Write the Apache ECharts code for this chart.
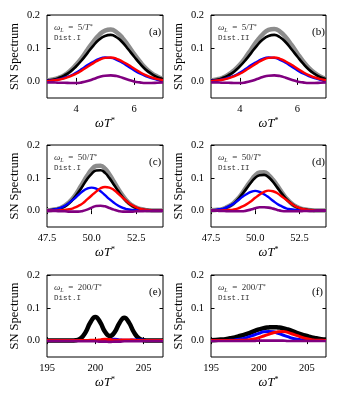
<!DOCTYPE html>
<html>
<head>
<meta charset="utf-8">
<script src="https://cdn.jsdelivr.net/npm/echarts@6/dist/echarts.min.js"></script>
<style>
  html, body { margin: 0; padding: 0; background: #fff; }
  #main { width: 338px; height: 400px; }
</style>
</head>
<body>
<div id="main"></div>
<script>
// x 網格
const xA = [3.0,3.2,3.4,3.6,3.8,4.0,4.2,4.4,4.6,4.8,5.0,5.2,5.4,5.6,5.8,6.0,6.2,6.4,6.6,6.8,7.0];
const xC = [47.5,47.75,48,48.25,48.5,48.75,49,49.25,49.5,49.75,50,50.25,50.5,50.75,51,51.25,51.5,51.75,52,52.25,52.5,52.75,53,53.25,53.5,53.75,54];
const xE = [195,195.5,196,196.5,197,197.5,198,198.5,199,199.5,200,200.5,201,201.5,202,202.5,203,203.5,204,204.5,205,205.5,206,206.5,207];

// tick labels
const xTicksA = [4, 6];
const xTicksC = [47.5, 50, 52.5];
const xTicksE = [195, 200, 205];
const yTicks = [0, 0.1, 0.2];

// (a) wL = 5, Dist.I
const grayA   = [0.003,0.006,0.011,0.019,0.032,0.050,0.071,0.096,0.120,0.140,0.153,0.156,0.148,0.131,0.108,0.083,0.060,0.040,0.025,0.015,0.008];
const blackA  = [0.003,0.005,0.010,0.018,0.029,0.045,0.064,0.086,0.108,0.126,0.137,0.140,0.133,0.118,0.097,0.075,0.054,0.036,0.023,0.013,0.007];
const blueA   = [0.002,0.003,0.006,0.011,0.017,0.026,0.037,0.049,0.059,0.068,0.072,0.071,0.065,0.056,0.045,0.034,0.024,0.016,0.010,0.005,0.003];
const redA    = [0.001,0.003,0.005,0.009,0.015,0.023,0.033,0.044,0.055,0.065,0.071,0.072,0.068,0.060,0.050,0.039,0.028,0.019,0.012,0.007,0.004];
const purpleA = [-0.003,-0.003,-0.004,-0.004,-0.005,-0.005,-0.003,0.001,0.007,0.013,0.017,0.018,0.016,0.011,0.005,0.000,-0.003,-0.005,-0.005,-0.004,-0.003];

// (b) wL = 5, Dist.II
const grayB   = [0.003,0.006,0.011,0.020,0.033,0.050,0.072,0.097,0.122,0.142,0.155,0.158,0.150,0.133,0.110,0.085,0.061,0.041,0.026,0.015,0.008];
const blackB  = [0.003,0.005,0.010,0.018,0.029,0.045,0.064,0.086,0.108,0.126,0.137,0.140,0.133,0.118,0.097,0.075,0.054,0.036,0.023,0.013,0.007];
const blueB   = [0.002,0.003,0.006,0.011,0.017,0.026,0.037,0.049,0.059,0.068,0.072,0.071,0.065,0.056,0.045,0.034,0.024,0.016,0.010,0.005,0.003];
const redB    = [0.001,0.003,0.005,0.009,0.015,0.023,0.033,0.044,0.055,0.065,0.071,0.072,0.068,0.060,0.050,0.039,0.028,0.019,0.012,0.007,0.004];
const purpleB = [-0.003,-0.003,-0.004,-0.004,-0.005,-0.005,-0.003,0.001,0.007,0.013,0.017,0.018,0.016,0.011,0.005,0.000,-0.003,-0.005,-0.005,-0.004,-0.003];

// (c) wL = 50, Dist.I
const grayC   = [0.001,0.002,0.004,0.008,0.015,0.026,0.041,0.061,0.084,0.106,0.125,0.136,0.137,0.128,0.110,0.088,0.065,0.045,0.028,0.017,0.009,0.005,0.002,0.001,0,0,0];
const blackC  = [0.001,0.002,0.004,0.007,0.013,0.023,0.037,0.055,0.075,0.096,0.112,0.122,0.123,0.115,0.099,0.079,0.059,0.040,0.026,0.015,0.008,0.004,0.002,0.001,0,0,0];
const blueC   = [0.001,0.002,0.004,0.008,0.015,0.024,0.035,0.047,0.059,0.067,0.070,0.067,0.059,0.047,0.035,0.024,0.015,0.008,0.004,0.002,0.001,0,0,0,0,0,0];
const redC    = [0,0,0,0.001,0.002,0.004,0.008,0.014,0.022,0.034,0.046,0.058,0.068,0.072,0.070,0.063,0.051,0.039,0.027,0.017,0.010,0.005,0.003,0.001,0,0,0];
const purpleC = [-0.001,-0.001,-0.001,-0.002,-0.002,-0.003,-0.003,-0.003,-0.001,0.003,0.009,0.014,0.015,0.013,0.008,0.003,-0.001,-0.003,-0.003,-0.003,-0.002,-0.002,-0.001,-0.001,-0.001,-0.001,-0.001];

// (d) wL = 50, Dist.II
const grayD   = [0.001,0.002,0.003,0.007,0.013,0.022,0.035,0.052,0.072,0.091,0.107,0.116,0.117,0.109,0.094,0.076,0.056,0.038,0.024,0.014,0.008,0.004,0.002,0.001,0,0,0];
const blackD  = [0.001,0.001,0.003,0.006,0.012,0.020,0.033,0.049,0.067,0.085,0.100,0.108,0.109,0.102,0.088,0.070,0.052,0.036,0.023,0.013,0.007,0.004,0.002,0.001,0,0,0];
const blueD   = [0.001,0.002,0.004,0.007,0.013,0.020,0.030,0.041,0.050,0.057,0.060,0.057,0.050,0.041,0.030,0.020,0.013,0.007,0.004,0.002,0.001,0,0,0,0,0,0];
const redD    = [0,0,0,0.001,0.002,0.003,0.006,0.012,0.019,0.028,0.039,0.049,0.057,0.061,0.059,0.053,0.043,0.033,0.023,0.014,0.008,0.004,0.002,0.001,0,0,0];
const purpleD = [0,0,-0.001,-0.001,-0.002,-0.002,-0.002,-0.002,0,0.003,0.007,0.010,0.010,0.009,0.006,0.002,-0.001,-0.002,-0.002,-0.002,-0.002,-0.001,-0.001,-0.001,0,0,0];

// (e) wL = 200, Dist.I
const blackE  = [0,0,0,0,0,0,0.001,0.007,0.026,0.056,0.072,0.056,0.027,0.014,0.026,0.054,0.070,0.054,0.025,0.007,0.001,0,0,0,0];
const blueE   = [0,0,0,0,0,0,0,0,0,0,0,0,0.001,0.002,0.004,0.002,0.001,0.001,0.002,0.002,0.001,0,0,0,0];
const redE    = [0,0,0,0,0,0,0,0,0,0.001,0.001,0.002,0.004,0.003,0.001,0.001,0.002,0.002,0.001,0,0,0,0,0,0];
const purpleE = [-0.001,-0.001,-0.001,-0.001,-0.001,-0.001,-0.001,-0.002,-0.002,-0.002,-0.002,-0.003,-0.003,-0.004,-0.003,-0.003,-0.002,-0.002,-0.002,-0.002,-0.001,-0.001,-0.001,-0.001,-0.001];

// (f) wL = 200, Dist.II
const blackF  = [0.001,0.002,0.003,0.004,0.007,0.010,0.014,0.018,0.023,0.029,0.034,0.038,0.040,0.041,0.040,0.038,0.034,0.029,0.023,0.018,0.014,0.010,0.007,0.004,0.003];
const blueF   = [0,0,0,0,0.001,0.002,0.004,0.007,0.012,0.017,0.022,0.027,0.028,0.027,0.022,0.017,0.012,0.007,0.004,0.002,0.001,0,0,0,0];
const redF    = [0,0,0,0,0,0,0.001,0.001,0.003,0.005,0.009,0.014,0.019,0.024,0.027,0.028,0.025,0.020,0.015,0.010,0.006,0.003,0.001,0.001,0];
const purpleF = [-0.001,-0.001,-0.001,-0.001,-0.001,-0.001,-0.001,-0.001,-0.001,-0.001,0,0,0,0,0,0,-0.001,-0.001,-0.001,-0.001,-0.001,-0.001,-0.001,-0.001,-0.001];

const panels = [
  {xs: xA, xr: [3, 7], xt: xTicksA, dec: 0, gray: grayA, black: blackA, blue: blueA, red: redA, purple: purpleA, wl: '5', dist: 'Dist.I', tag: '(a)', thick: false},
  {xs: xA, xr: [3, 7], xt: xTicksA, dec: 0, gray: grayB, black: blackB, blue: blueB, red: redB, purple: purpleB, wl: '5', dist: 'Dist.II', tag: '(b)', thick: false},
  {xs: xC, xr: [47.5, 54], xt: xTicksC, dec: 1, gray: grayC, black: blackC, blue: blueC, red: redC, purple: purpleC, wl: '50', dist: 'Dist.I', tag: '(c)', thick: false},
  {xs: xC, xr: [47.5, 54], xt: xTicksC, dec: 1, gray: grayD, black: blackD, blue: blueD, red: redD, purple: purpleD, wl: '50', dist: 'Dist.II', tag: '(d)', thick: false},
  {xs: xE, xr: [195, 207], xt: xTicksE, dec: 0, gray: null, black: blackE, blue: blueE, red: redE, purple: purpleE, wl: '200', dist: 'Dist.I', tag: '(e)', thick: true},
  {xs: xE, xr: [195, 207], xt: xTicksE, dec: 0, gray: null, black: blackF, blue: blueF, red: redF, purple: purpleF, wl: '200', dist: 'Dist.II', tag: '(f)', thick: true}
];

const serif = 'Liberation Serif';
const lefts = [47, 211], widths = [116, 115];
const tops = [15, 145, 275], heights = [83, 82, 82];

let grids = [], xAxes = [], yAxes = [], series = [], titles = [];

panels.forEach(function (p, i) {
  const col = i % 2, row = Math.floor(i / 2);
  const L = lefts[col], T = tops[row], W = widths[col], H = heights[row];
  grids.push({left: L, top: T, width: W, height: H, show: true, borderColor: '#000', borderWidth: 1, backgroundColor: 'transparent'});

  // 下方 x 軸 + 上方鏡像
  xAxes.push({
    type: 'value', gridIndex: i, min: p.xr[0], max: p.xr[1], position: 'bottom',
    splitLine: {show: false}, axisLine: {show: false},
    axisTick: {show: true, inside: true, length: 3.5, customValues: p.xt, lineStyle: {color: '#000'}},
    axisLabel: {customValues: p.xt, margin: 6, color: '#000', fontFamily: serif, fontSize: 10.5,
      formatter: function (v) { return v.toFixed(p.dec); }},
    name: '{w|ωT}{s|*}', nameLocation: 'middle', nameGap: 19,
    nameTextStyle: {rich: {
      w: {fontFamily: serif, fontStyle: 'italic', fontSize: 12.5, color: '#000'},
      s: {fontFamily: serif, fontSize: 8, color: '#000', verticalAlign: 'top', padding: [0, 0, 6, 0]}
    }}
  });
  xAxes.push({
    type: 'value', gridIndex: i, min: p.xr[0], max: p.xr[1], position: 'top',
    splitLine: {show: false}, axisLine: {show: false}, axisLabel: {show: false},
    axisTick: {show: true, inside: true, length: 3.5, customValues: p.xt, lineStyle: {color: '#000'}}
  });
  yAxes.push({
    type: 'value', gridIndex: i, min: -0.05, max: 0.2, position: 'left',
    splitLine: {show: false}, axisLine: {show: false},
    axisTick: {show: true, inside: true, length: 3.5, customValues: yTicks, lineStyle: {color: '#000'}},
    axisLabel: {customValues: yTicks, margin: 7, color: '#000', fontFamily: serif, fontSize: 10.5,
      formatter: function (v) { return v.toFixed(1); }},
    name: 'SN Spectrum', nameLocation: 'middle', nameGap: 26,
    nameTextStyle: {fontFamily: serif, fontSize: 12.5, color: '#000'}
  });
  yAxes.push({
    type: 'value', gridIndex: i, min: -0.05, max: 0.2, position: 'right',
    splitLine: {show: false}, axisLine: {show: false}, axisLabel: {show: false},
    axisTick: {show: true, inside: true, length: 3.5, customValues: yTicks, lineStyle: {color: '#000'}}
  });

  const xi = 2 * i, yi = 2 * i;
  function pts(ys) { return p.xs.map(function (x, k) { return [x, ys[k]]; }); }
  function line(ys, color, width) {
    return {type: 'line', xAxisIndex: xi, yAxisIndex: yi, data: pts(ys), smooth: true, showSymbol: false,
      silent: true, lineStyle: {color: color, width: width}, itemStyle: {color: color}};
  }
  if (p.gray) series.push(line(p.gray, '#8c8c8c', 4.5));
  series.push(line(p.black, '#000000', p.thick ? 4.5 : 2.6));
  series.push(line(p.blue, '#0000ff', p.thick ? 3 : 2.4));
  series.push(line(p.red, '#ff0000', p.thick ? 3 : 2.4));
  series.push(line(p.purple, '#800080', 2.6));

  // 標註
  const base = {fontFamily: serif, fontSize: 9, fontWeight: 'normal', color: '#333'};
  titles.push({
    text: '{i|ω}{sub|L}{n|  =  ' + p.wl + '/}{i|T}{sup|*}', left: L + 2, top: T + 3,
    textStyle: {fontWeight: 'normal', rich: {
      i: Object.assign({}, base, {fontStyle: 'italic'}),
      n: base,
      sub: Object.assign({}, base, {fontStyle: 'italic', fontSize: 6, verticalAlign: 'bottom', padding: [4, 0, 0, 0]}),
      sup: Object.assign({}, base, {fontSize: 6, verticalAlign: 'top', padding: [0, 0, 4, 0]})
    }}
  });
  titles.push({
    text: p.dist, left: L + 2, top: T + 14,
    textStyle: {fontFamily: 'Liberation Mono', fontSize: 7.5, fontWeight: 'normal', color: '#333'}
  });
  titles.push({
    text: p.tag, left: L + W - 19, top: T + 7,
    textStyle: {fontFamily: serif, fontSize: 11, fontWeight: 'normal', color: '#000'}
  });
});

let myChart = echarts.init(document.getElementById('main'));
myChart.setOption({
  animation: false,
  title: titles,
  grid: grids,
  xAxis: xAxes,
  yAxis: yAxes,
  series: series
});
</script>
</body>
</html>
